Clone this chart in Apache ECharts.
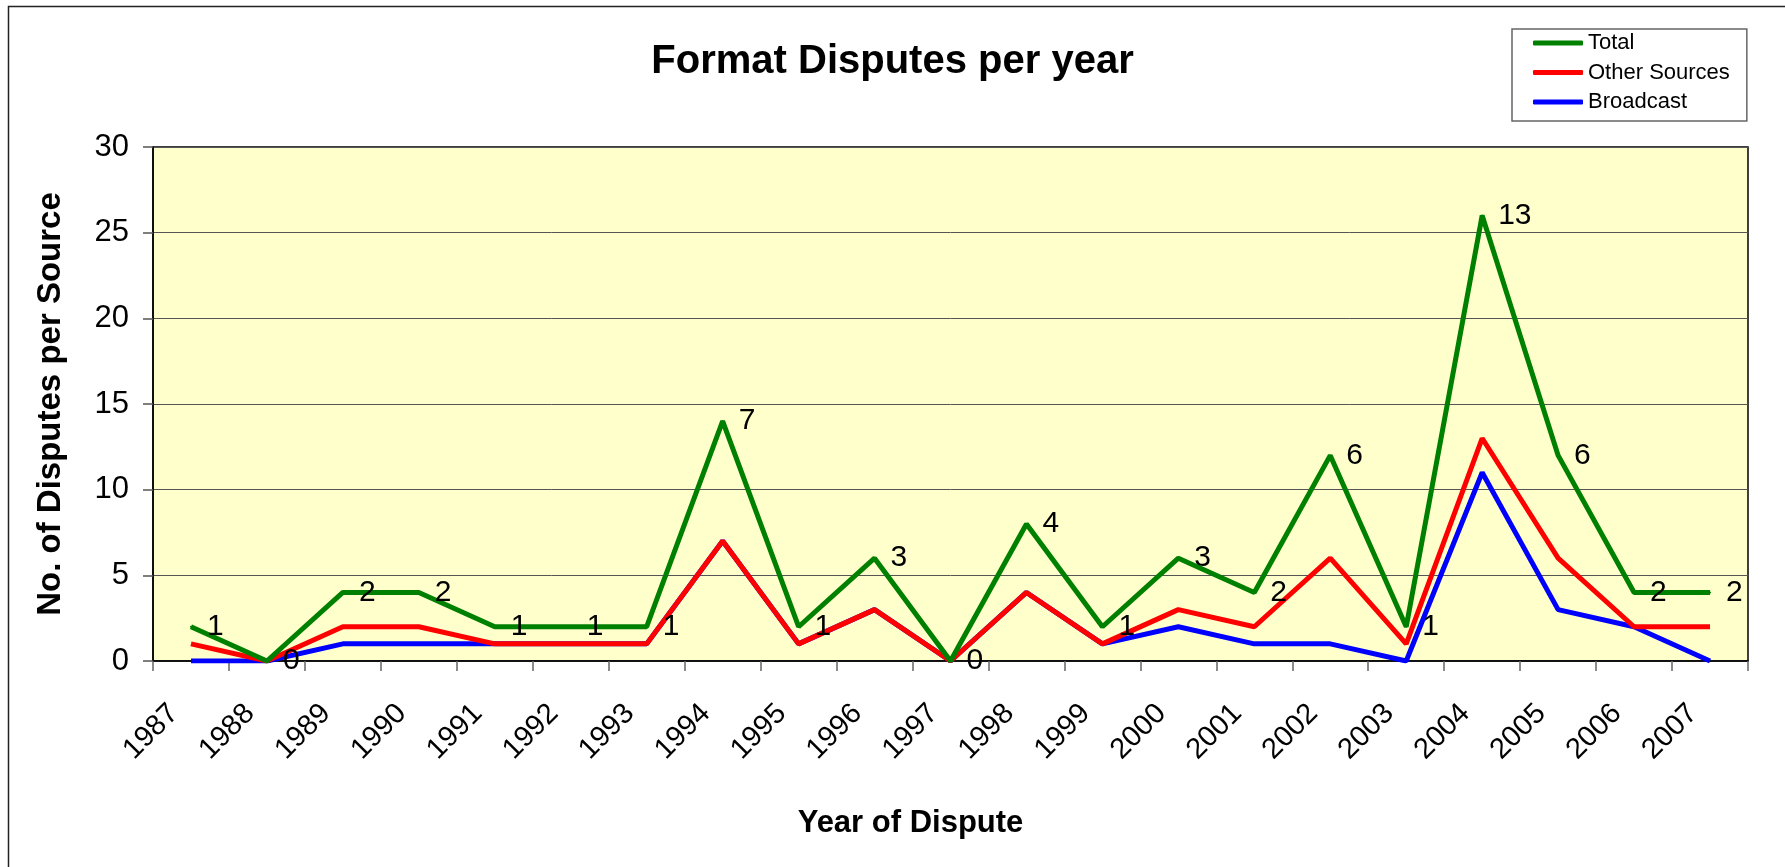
<!DOCTYPE html>
<html>
<head>
<meta charset="utf-8">
<script src="https://cdn.jsdelivr.net/npm/echarts@6/dist/echarts.min.js"></script>
<style>
html,body{margin:0;padding:0;background:#fff;}
#chart{width:1785px;height:867px;}
</style>
</head>
<body>
<div id="chart"></div>
<script>
const years = ['1987','1988','1989','1990','1991','1992','1993','1994','1995','1996','1997','1998','1999','2000','2001','2002','2003','2004','2005','2006','2007'];
const total = [2,0,4,4,2,2,2,14,2,6,0,8,2,6,4,12,2,26,12,4,4];
const otherSources = [1,0,2,2,1,1,1,7,1,3,0,4,1,3,2,6,1,13,6,2,2];
const broadcast = [0,0,1,1,1,1,1,7,1,3,0,4,1,2,1,1,0,11,3,2,0];
const yTicks = {min:0, max:30, interval:5};

const FONT = '"Liberation Sans", Arial, sans-serif';
const chart = echarts.init(document.getElementById('chart'));
chart.setOption({
  animation:false,
  backgroundColor:'#ffffff',
  title:{
    text:'Format Disputes per year',
    left:'center', top:37,
    textStyle:{fontFamily:FONT, fontSize:40, fontWeight:'bold', color:'#000'}
  },
  legend:{
    orient:'vertical',
    left:1512, top:29,
    width:231,
    padding:[3,17,8,21],
    itemGap:7.5,
    itemWidth:50, itemHeight:5,
    icon:'roundRect',
    borderColor:'#666', borderWidth:1.5,
    backgroundColor:'#fff',
    textStyle:{fontFamily:FONT, fontSize:22, color:'#000', lineHeight:22},
    data:['Total','Other Sources','Broadcast']
  },
  graphic:[{
    type:'rect', silent:true, z:-10,
    shape:{x:8.5, y:6.5, width:2000, height:2000},
    style:{fill:'none', stroke:'#222', lineWidth:1.5}
  }],
  grid:{
    left:153, right:37, top:147, bottom:206,
    show:true, backgroundColor:'#FFFFCC', borderColor:'#000', borderWidth:1.5
  },
  xAxis:{
    type:'category',
    data:years,
    boundaryGap:true,
    name:'Year of Dispute',
    nameLocation:'middle',
    nameGap:147,
    nameTextStyle:{fontFamily:FONT, fontSize:31, fontWeight:'bold', color:'#000', padding:[0,80,0,0]},
    axisLine:{show:true, lineStyle:{color:'#000', width:1.5}},
    axisTick:{show:true, inside:false, length:10, alignWithLabel:false, lineStyle:{color:'#666', width:1.5}},
    axisLabel:{rotate:45, margin:31, padding:[0,24,0,0], fontFamily:FONT, fontSize:29, color:'#000', interval:0}
  },
  yAxis:{
    type:'value',
    min:yTicks.min, max:yTicks.max, interval:yTicks.interval,
    name:'No. of Disputes per Source',
    nameLocation:'middle',
    nameGap:86,
    nameTextStyle:{fontFamily:FONT, fontSize:33, fontWeight:'bold', color:'#000'},
    axisLine:{show:true, lineStyle:{color:'#000', width:1.5}},
    axisTick:{show:true, inside:false, length:10, lineStyle:{color:'#555', width:1.5}},
    axisLabel:{margin:24, fontFamily:FONT, fontSize:31, color:'#000'},
    splitLine:{show:true, lineStyle:{color:'#555', width:1}}
  },
  series:[
    {
      name:'Total', type:'line', data:total, z:5,
      color:'#008000',
      lineStyle:{color:'#008000', width:5},
      symbol:'circle', symbolSize:2, showSymbol:true,
      itemStyle:{color:'#008000'},
      label:{show:true, position:'right', distance:15, fontFamily:FONT, fontSize:30, color:'#000',
        formatter:(p)=>String(otherSources[p.dataIndex])}
    },
    {
      name:'Other Sources', type:'line', data:otherSources, z:4,
      color:'#FF0000',
      lineStyle:{color:'#FF0000', width:5},
      symbol:'none'
    },
    {
      name:'Broadcast', type:'line', data:broadcast, z:3,
      color:'#0000FF',
      lineStyle:{color:'#0000FF', width:5},
      symbol:'none'
    }
  ]
});
</script>
</body>
</html>
